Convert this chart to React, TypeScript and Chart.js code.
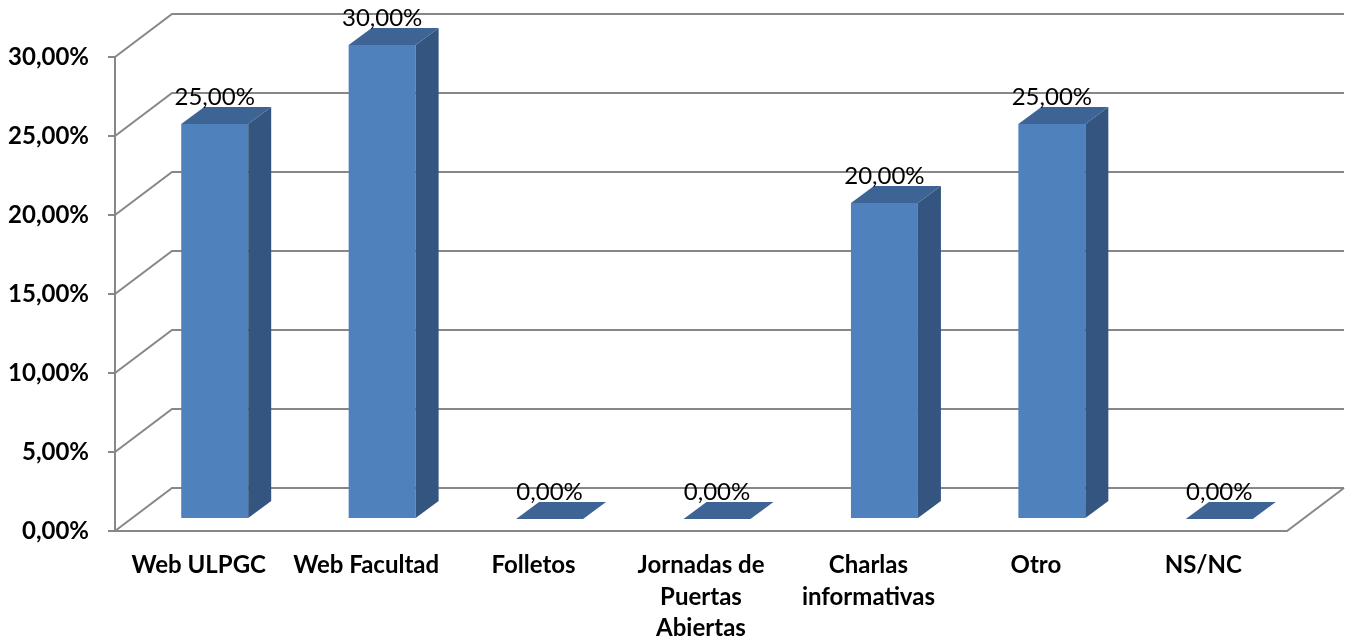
import React, { useEffect, useRef } from 'react';
import { Chart, registerables } from 'chart.js';

Chart.register(...registerables);

const categories: string[][] = [
  ['Web ULPGC'],
  ['Web Facultad'],
  ['Folletos'],
  ['Jornadas de', 'Puertas', 'Abiertas'],
  ['Charlas', 'informativas'],
  ['Otro'],
  ['NS/NC'],
];
const values: number[] = [25, 30, 0, 0, 20, 25, 0];
const yTicks: number[] = [0, 5, 10, 15, 20, 25, 30];

const fmt = (v: number) => v.toFixed(2).replace('.', ',') + '%';

const GRID = '#878787';
const FRONT = '#4F81BD';
const TOP = '#3D6495';
const SIDE = '#34557F';
const FONT = 'Lato';

const DEPTH = { dx: 57, dy: -43 };
const BAR_OFF = { dx: 16, dy: -12 };
const BAR_DEPTH = { dx: 23, dy: -17 };

const threeD = {
  id: 'threeD',
  beforeDatasetsDraw(chart: any) {
    const { ctx, chartArea, scales } = chart;
    const y = scales.y;
    const L = chartArea.left;
    const R = chartArea.right;
    const backR = R + DEPTH.dx;
    ctx.save();
    ctx.strokeStyle = GRID;
    ctx.lineWidth = 2;
    yTicks.forEach((v) => {
      const py = Math.round(y.getPixelForValue(v));
      ctx.beginPath();
      ctx.moveTo(L, py);
      ctx.lineTo(L + DEPTH.dx, py + DEPTH.dy);
      ctx.lineTo(backR, py + DEPTH.dy);
      ctx.stroke();
    });
    const py0 = Math.round(y.getPixelForValue(0));
    ctx.beginPath();
    ctx.moveTo(L, py0);
    ctx.lineTo(R, py0);
    ctx.lineTo(backR, py0 + DEPTH.dy);
    ctx.stroke();
    ctx.restore();
  },
  afterDatasetsDraw(chart: any) {
    const { ctx } = chart;
    const meta = chart.getDatasetMeta(0);
    ctx.save();
    meta.data.forEach((bar: any, i: number) => {
      const w = bar.width;
      const x1 = bar.x - w / 2 + BAR_OFF.dx;
      const x2 = bar.x + w / 2 + BAR_OFF.dx;
      const yTop = bar.y + BAR_OFF.dy;
      const yBot = bar.base + BAR_OFF.dy;
      const h = yBot - yTop;
      if (h > 0.5) {
        ctx.fillStyle = FRONT;
        ctx.fillRect(x1, yTop, w, h);
        ctx.fillStyle = SIDE;
        ctx.beginPath();
        ctx.moveTo(x2, yTop);
        ctx.lineTo(x2 + BAR_DEPTH.dx, yTop + BAR_DEPTH.dy);
        ctx.lineTo(x2 + BAR_DEPTH.dx, yBot + BAR_DEPTH.dy);
        ctx.lineTo(x2, yBot);
        ctx.closePath();
        ctx.fill();
      }
      ctx.fillStyle = TOP;
      ctx.beginPath();
      ctx.moveTo(x1, yTop);
      ctx.lineTo(x2, yTop);
      ctx.lineTo(x2 + BAR_DEPTH.dx, yTop + BAR_DEPTH.dy);
      ctx.lineTo(x1 + BAR_DEPTH.dx, yTop + BAR_DEPTH.dy);
      ctx.closePath();
      ctx.fill();
      ctx.fillStyle = '#000';
      ctx.font = `24px ${FONT}`;
      ctx.textAlign = 'center';
      ctx.textBaseline = 'alphabetic';
      ctx.fillText(fmt(values[i]), (x1 + x2) / 2, yTop + BAR_DEPTH.dy - 2);
    });
    ctx.restore();
  },
};

export default function App() {
  const ref = useRef<HTMLCanvasElement>(null);
  useEffect(() => {
    document.body.style.margin = '0';
    const chart = new Chart(ref.current!, {
      type: 'bar',
      data: {
        labels: categories,
        datasets: [
          {
            data: values,
            backgroundColor: 'rgba(0,0,0,0)',
            borderWidth: 0,
            categoryPercentage: 1,
            barPercentage: 0.4,
          },
        ],
      },
      options: {
        animation: false,
        responsive: false,
        devicePixelRatio: 1,
        layout: { padding: { top: 57, right: 61, left: 0, bottom: 0 } },
        plugins: { legend: { display: false }, tooltip: { enabled: false } },
        scales: {
          x: {
            grid: { display: false, drawTicks: false },
            border: { display: false },
            ticks: {
              autoSkip: false,
              maxRotation: 0,
              minRotation: 0,
              padding: 19,
              color: '#000',
              font: { family: FONT, weight: 'bold', size: 24, lineHeight: 1.3 },
            },
            afterFit: (s: any) => {
              s.height = 112;
            },
          },
          y: {
            min: 0,
            max: 30,
            afterBuildTicks: (s: any) => {
              s.ticks = yTicks.map((v) => ({ value: v }));
            },
            grid: {
              drawOnChartArea: false,
              drawTicks: true,
              tickLength: 7,
              color: GRID,
              lineWidth: 2,
            },
            border: { display: true, color: GRID, width: 2 },
            ticks: {
              padding: 19,
              color: '#000',
              font: { family: FONT, weight: 'bold', size: 24 },
              callback: (v: any) => fmt(Number(v)),
            },
            afterFit: (s: any) => {
              s.width = 115;
            },
          },
        },
      },
      plugins: [threeD],
    });
    return () => chart.destroy();
  }, []);
  return (
    <div style={{ position: 'fixed', left: 0, top: 0, width: 1348, height: 643, background: '#fff' }}>
      <canvas ref={ref} width={1348} height={643} />
    </div>
  );
}
